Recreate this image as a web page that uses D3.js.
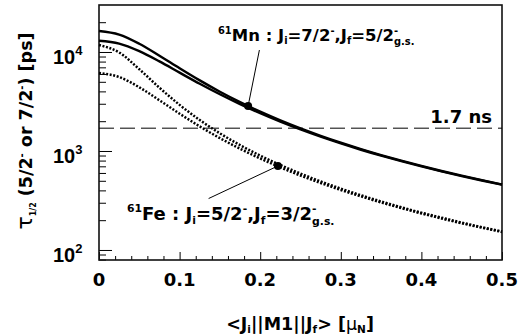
<!DOCTYPE html>
<html><head><meta charset="utf-8">
<script src="https://cdn.jsdelivr.net/npm/d3@7"></script>
<style>
body{margin:0;background:#fff;}
svg{display:block;font-family:"DejaVu Sans",sans-serif;}
</style></head>
<body><svg id="c" width="524" height="336"></svg>
<script>
// ---- data ----
const xValues = [0,0.025,0.05,0.075,0.1,0.125,0.15,0.175,0.2,0.225,0.25,0.275,0.3,0.325,0.35,0.375,0.4,0.425,0.45,0.475,0.5];
const mnUpper = [16313,15017,12125,9179,6849,5164,3970,3118,2499,2040,1693,1425,1214,1046,910,798,706,628,563,507,459];
const mnLower = [13004,12167,10196,8030,6188,4779,3739,2974,2406,1978,1649,1394,1192,1029,897,789,698,622,558,503,456];
const feUpper = [11765,9895,6700,4356,2924,2055,1508,1147,898,721,591,493,417,357,309,270,238,212,189,170,154];
const feLower = [6135,5585,4400,3251,2381,1771,1349,1053,840,683,565,475,404,348,302,265,234,208,186,168,152];
const markerX = [0.185, 0.222];
const markerY = [2847, 706];
const leaderX = [0.199, 0.136];
const leaderY = [10470, 331];
const limitValue = 1700;
const xTickValues = [0,0.1,0.2,0.3,0.4,0.5];
const xTickLabels = ["0","0.1","0.2","0.3","0.4","0.5"];
const yTickValues = [100,1000,10000];
const yTickExp = ["2","3","4"];

const svg = d3.select("#c");
const x = d3.scaleLinear().domain([0,0.5]).range([99,502]);
const y = d3.scaleLog().domain([79.2,29840]).range([260,5]);

// axes ticks
const gy = svg.append("g").attr("transform","translate(99,0)");
gy.call(d3.axisLeft(y).tickValues(yTickValues).tickSize(-13).tickFormat(""));
const yMinor = y.ticks().filter(v => yTickValues.indexOf(v) < 0 && v > 79.2 && v < 29840);
gy.append("g").call(d3.axisLeft(y).tickValues(yMinor).tickSize(-7).tickFormat(""));
const gx = svg.append("g").attr("transform","translate(0,260)");
gx.call(d3.axisBottom(x).tickValues(xTickValues).tickSize(-8).tickFormat(""));
const xMinor = x.ticks(25).filter(v => xTickValues.every(t => Math.abs(t - v) > 1e-9));
gx.append("g").call(d3.axisBottom(x).tickValues(xMinor).tickSize(-4).tickFormat(""));
svg.selectAll(".domain").remove();
svg.selectAll(".tick line").attr("stroke","#000").attr("stroke-width",1);

// frame
svg.append("rect").attr("x",99).attr("y",5).attr("width",403).attr("height",255)
  .attr("fill","none").attr("stroke","#111").attr("stroke-width",1.6);

// tick labels
svg.append("g").selectAll("text").data(xTickValues).join("text")
  .attr("x", d => x(d)).attr("y", 286).attr("text-anchor","middle")
  .attr("font-size",18).attr("font-weight","bold").text((d,i) => xTickLabels[i]);
const yl = svg.append("g").selectAll("text").data(yTickValues).join("text")
  .attr("x", 53).attr("y", d => y(d) + 12)
  .attr("font-family","'Liberation Sans',Arial,sans-serif")
  .attr("font-size",20).attr("font-weight","bold");
yl.append("tspan").text("10");
yl.append("tspan").attr("font-size",13).attr("dy",-9).text((d,i) => yTickExp[i]);

// dashed limit line
svg.append("line").attr("x1",x(0)).attr("x2",x(0.5)).attr("y1",y(limitValue)).attr("y2",y(limitValue))
  .attr("stroke","#000").attr("stroke-width",1).attr("stroke-dasharray","15,6");
svg.append("text").attr("x",492).attr("y",y(limitValue)-5).attr("text-anchor","end")
  .attr("font-size",18).attr("font-weight","bold").text("1.7 ns");

// curves
const line = d3.line().x((d,i) => x(xValues[i])).y(d => y(d)).curve(d3.curveMonotoneX);
[mnUpper, mnLower].forEach(s => svg.append("path").attr("d", line(s)).attr("fill","none")
  .attr("stroke","#000").attr("stroke-width",2.4));
[feUpper, feLower].forEach(s => svg.append("path").attr("d", line(s)).attr("fill","none")
  .attr("stroke","#000").attr("stroke-width",2.5).attr("stroke-dasharray","2,1.6"));

// leaders and markers
markerX.forEach((mx,i) => {
  svg.append("line").attr("x1",x(mx)).attr("y1",y(markerY[i])).attr("x2",x(leaderX[i])).attr("y2",y(leaderY[i]))
    .attr("stroke","#000").attr("stroke-width",1);
  svg.append("circle").attr("cx",x(mx)).attr("cy",y(markerY[i])).attr("r",4).attr("fill","#000");
});

// annotation labels
function nucleusLabel(xp, yp, fs, mass, el, ji, jf){
  const t = svg.append("text").attr("x",xp).attr("y",yp).attr("font-size",fs).attr("font-weight","bold");
  const s = fs*0.6;
  t.append("tspan").attr("font-size",s).attr("dy",-fs*0.45).text(mass);
  t.append("tspan").attr("dy",fs*0.45).text(el + " : J");
  t.append("tspan").attr("font-size",s).attr("dy",fs*0.2).text("i");
  t.append("tspan").attr("dy",-fs*0.2).text("=" + ji);
  t.append("tspan").attr("font-size",s).attr("dy",-fs*0.45).text("-");
  t.append("tspan").attr("dy",fs*0.45).text(",J");
  t.append("tspan").attr("font-size",s).attr("dy",fs*0.2).text("f");
  t.append("tspan").attr("dy",-fs*0.2).text("=" + jf);
  t.append("tspan").attr("font-size",s).attr("dy",-fs*0.45).text("-");
  t.append("tspan").attr("font-size",s).attr("dx",-s*0.42).attr("dy",fs*0.7).text("g.s.");
}
nucleusLabel(218, 41, 16.5, "61", "Mn", "7/2", "5/2");
nucleusLabel(127, 220, 18, "61", "Fe", "5/2", "3/2");

// x title
const xt = svg.append("text").attr("x",300).attr("y",330).attr("text-anchor","middle")
  .attr("font-size",17.5).attr("font-weight","bold");
xt.append("tspan").text("<J");
xt.append("tspan").attr("font-size",10.5).attr("dy",2.5).text("i");
xt.append("tspan").attr("dy",-2.5).text("||M1||J");
xt.append("tspan").attr("font-size",10.5).attr("dy",2.5).text("f");
xt.append("tspan").attr("dy",-2.5).text("> [");
xt.append("tspan").attr("font-weight","normal").text("μ");
xt.append("tspan").attr("font-size",10.5).attr("dy",2.5).text("N");
xt.append("tspan").attr("dy",-2.5).text("]");

// y title
const yt = svg.append("text").attr("transform","translate(32,131) rotate(-90)").attr("text-anchor","middle")
  .attr("font-size",17.5).attr("font-weight","bold");
yt.append("tspan").attr("font-weight","normal").attr("font-size",22).text("τ");
yt.append("tspan").attr("font-size",8).attr("dy",4).text("1/2");
yt.append("tspan").attr("dy",-4).text(" (5/2");
yt.append("tspan").attr("font-size",10).attr("dy",-7).text("-");
yt.append("tspan").attr("dy",7).text(" or 7/2");
yt.append("tspan").attr("font-size",10).attr("dy",-7).text("-");
yt.append("tspan").attr("dy",7).text(") [ps]");
</script></body></html>
